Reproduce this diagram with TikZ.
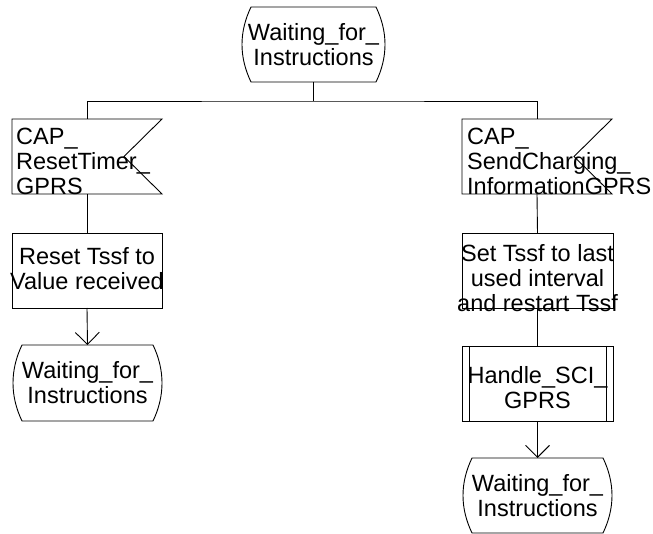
\documentclass[tikz,border=0pt]{standalone}
\usepackage{fontspec}
\setmainfont{Liberation Sans}
\usetikzlibrary{arrows.meta}
\tikzset{
  base/.style={rectangle, inner sep=0pt, outer sep=0pt, draw=none},
  statebox/.style={base},
  sigbox/.style={base, minimum width=150pt, minimum height=75pt},
  taskbox/.style={base, draw, minimum width=150pt, minimum height=75pt},
  procbox/.style={base, draw, minimum width=151pt, minimum height=75pt},
  lbl/.style={inner sep=0pt, font=\fontsize{23.5}{25}\selectfont},
  conn/.style={line width=0.9pt},
  flow/.style={conn, -{Straight Barb[length=12pt,width=24pt,line width=0.9pt]}},
}
\newcommand\drawstate[1]{%
  \draw[conn] ([xshift=10pt]#1.north west) -- ([xshift=-10pt]#1.north east)
    .. controls ([xshift=2pt,yshift=-25pt]#1.north east) and ([xshift=2pt,yshift=25pt]#1.south east) .. ([xshift=-10pt]#1.south east)
    -- ([xshift=10pt]#1.south west)
    .. controls ([xshift=-2pt,yshift=25pt]#1.south west) and ([xshift=-2pt,yshift=-25pt]#1.north west) .. cycle;}
\newcommand\drawsig[1]{%
  \draw[conn] (#1.north west) -- (#1.north east) -- ([xshift=-38pt]#1.east) -- (#1.south east) -- (#1.south west) -- cycle;}
\newcommand\drawproc[1]{%
  \draw[conn] ([xshift=7pt]#1.north west) -- ([xshift=7pt]#1.south west);
  \draw[conn] ([xshift=-7pt]#1.north east) -- ([xshift=-7pt]#1.south east);}
\begin{document}
\begin{tikzpicture}[x=1pt,y=-1pt]
\useasboundingbox (0,0) rectangle (653,534);
% shapes
\node[statebox, minimum width=145pt, minimum height=75pt] (top) at (313.5,44.5) {};
\node[sigbox] (sigL) at (87,156.5) {};
\node[sigbox] (sigR) at (537,156.5) {};
\node[taskbox] (taskL) at (87,270.5) {};
\node[taskbox, minimum width=151pt] (taskR) at (537.5,270.5) {};
\node[procbox] (proc) at (537.5,383.5) {};
\node[statebox, minimum width=151pt, minimum height=76pt] (endL) at (87.5,383) {};
\node[statebox, minimum width=151pt, minimum height=75pt] (endR) at (537.5,495.5) {};
\drawstate{top}
\drawstate{endL}
\drawstate{endR}
\drawsig{sigL}
\drawsig{sigR}
\drawproc{proc}
% texts
\node[lbl, align=center] (tTop) at (top.center) {Waiting\_for\_\\Instructions};
\node[lbl, align=left, anchor=west] (tSigL) at ([xshift=4pt,yshift=-5pt]sigL.west) {CAP\_\\ResetTimer\_\\GPRS};
\node[lbl, align=left, anchor=west] (tSigR) at ([xshift=5pt,yshift=-5pt]sigR.west) {CAP\_\\SendCharging\_\\InformationGPRS};
\node[lbl, align=center] (tTaskL) at ([yshift=1.5pt]taskL.center) {Reset Tssf to\\Value received};
\node[lbl, align=center] (tTaskR) at ([yshift=-8pt]taskR.center) {Set Tssf to last\\used interval\\and restart Tssf};
\node[lbl, align=center] (tProc) at ([yshift=-4.5pt]proc.center) {Handle\_SCI\_\\GPRS};
\node[lbl, align=center] (tEndL) at (endL.center) {Waiting\_for\_\\Instructions};
\node[lbl, align=center] (tEndR) at (endR.center) {Waiting\_for\_\\Instructions};
% connectors
\coordinate (j) at (top.south |- 0,101);
\draw[conn] (top.south) -- (j);
\draw[conn] (sigL.north) |- (j) -| (sigR.north);
\draw[conn] (sigL.south) -- (taskL.north);
\draw[flow] (taskL.south) -- (endL.north);
\draw[conn] (sigR.south) -- (taskR.north);
\draw[conn] (taskR.south) -- (proc.north);
\draw[flow] (proc.south) -- (endR.north);
\end{tikzpicture}
\end{document}
